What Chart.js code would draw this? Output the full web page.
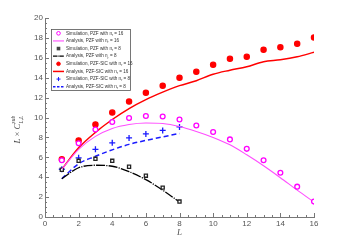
<!DOCTYPE html>
<html>
<head>
<meta charset="utf-8">
<script src="https://cdn.jsdelivr.net/npm/chart.js@4"></script>
<style>
  html, body { margin: 0; padding: 0; background: #fff; }
  #wrap { width: 347px; height: 245px; }
</style>
</head>
<body>
<div id="wrap"><canvas id="grafica" width="347" height="245"></canvas></div>
<script>
// valores
const L16 = [1, 2, 3, 4, 5, 6, 7, 8, 9, 10, 11, 12, 13, 14, 15, 16];
const L8 = [1, 2, 3, 4, 5, 6, 7, 8];

const simPzf16 = [5.7, 7.4, 8.8, 9.55, 9.95, 10.15, 10.1, 9.8, 9.2, 8.55, 7.8, 6.85, 5.7, 4.45, 3.05, 1.55];
const anaPzf16 = [4.8, 6.8, 8.1, 8.9, 9.3, 9.45, 9.4, 9.1, 8.6, 8.0, 7.25, 6.25, 5.15, 3.95, 2.7, 1.5];
const simPzf8 = [4.75, 5.65, 5.85, 5.65, 5.05, 4.15, 2.95, 1.55];
const anaPzf8 = [3.85, 4.95, 5.2, 5.1, 4.55, 3.75, 2.7, 1.5];
const simSic16 = [5.8, 7.7, 9.3, 10.5, 11.6, 12.5, 13.2, 14.0, 14.6, 15.3, 15.9, 16.1, 16.8, 17.05, 17.4, 18.05];
const anaSic16 = [4.8, 6.95, 8.5, 9.8, 10.9, 11.8, 12.55, 13.2, 13.7, 14.35, 14.75, 15.1, 15.6, 15.8, 16.1, 16.55];
const simSic8 = [4.8, 5.95, 6.8, 7.45, 7.95, 8.35, 8.7, 9.05];
const anaSic8 = [3.85, 5.35, 6.1, 6.75, 7.3, 7.7, 8.05, 8.4];

const xTicks = [0, 2, 4, 6, 8, 10, 12, 14, 16];
const yTicks = [0, 2, 4, 6, 8, 10, 12, 14, 16, 18, 20];

const etiquetas = [
  'Simulation, PZF with n|r| = 16',
  'Analysis, PZF with n|r| = 16',
  'Simulation, PZF with n|r| = 8',
  'Analysis, PZF with n|r| = 8',
  'Simulation, PZF-SIC with n|r| = 16',
  'Analysis, PZF-SIC with n|r| = 16',
  'Simulation, PZF-SIC with n|r| = 8',
  'Analysis, PZF-SIC with n|r| = 8'
];

const pares = (xs, ys) => xs.map((x, i) => ({ x: x, y: ys[i] }));

const puntos = (label, xs, ys, color, estilo, relleno, radio) => ({
  label: label,
  data: pares(xs, ys),
  showLine: false,
  pointStyle: estilo,
  pointRadius: radio,
  pointBorderWidth: 1.3,
  pointBorderColor: color,
  pointBackgroundColor: relleno,
  borderColor: color,
  backgroundColor: relleno
});

const linea = (label, xs, ys, color, ancho, guion) => ({
  label: label,
  data: pares(xs, ys),
  showLine: true,
  pointRadius: 0,
  borderColor: color,
  borderWidth: ancho,
  borderDash: guion,
  tension: 0.35,
  cubicInterpolationMode: 'monotone'
});

const datasets = [
  puntos(etiquetas[0], L16, simPzf16, '#ff00ff', 'circle', '#ffffff', 2.4),
  linea(etiquetas[1], L16, anaPzf16, '#ff4dff', 1.1, []),
  puntos(etiquetas[2], L8, simPzf8, '#222222', 'rect', '#ffffff', 2.2),
  linea(etiquetas[3], L8, anaPzf8, '#000000', 1.3, [9, 1.2, 1.2, 1.2]),
  puntos(etiquetas[4], L16, simSic16, '#ff0000', 'circle', '#ff0000', 2.6),
  linea(etiquetas[5], L16, anaSic16, '#ff0000', 1.5, []),
  puntos(etiquetas[6], L8, simSic8, '#1a1aff', 'cross', '#1a1aff', 3),
  linea(etiquetas[7], L8, anaSic8, '#1a1aff', 1.5, [5, 3])
];

// ticks hacia adentro (mayores y menores) usando las escalas
const ticksAdentro = {
  id: 'ticksAdentro',
  afterDraw(chart) {
    const c = chart.ctx;
    const xs = chart.scales.x, ys = chart.scales.y;
    const a = chart.chartArea;
    c.save();
    c.strokeStyle = '#777';
    c.lineWidth = 1;
    c.beginPath();
    for (let v = 0; v <= 16.001; v += 0.5) {
      const px = Math.round(xs.getPixelForValue(v)) + 0.5;
      const len = (v % 2 === 0) ? 4 : 2;
      c.moveTo(px, a.bottom);
      c.lineTo(px, a.bottom - len);
    }
    for (let v = 0; v <= 20.001; v += 0.5) {
      const py = Math.round(ys.getPixelForValue(v)) + 0.5;
      const len = (v % 2 === 0) ? 4 : 2;
      c.moveTo(a.left, py);
      c.lineTo(a.left + len, py);
    }
    c.stroke();
    c.restore();
  }
};

// leyenda dibujada a mano con el estilo de cada serie
const leyenda = {
  id: 'leyenda',
  afterDraw(chart) {
    const c = chart.ctx;
    const x0 = 51, y0 = 29, w = 79, h = 61;
    const fila = h / 8;
    c.save();
    c.fillStyle = '#fff';
    c.fillRect(x0, y0, w, h);
    c.strokeStyle = '#555';
    c.lineWidth = 0.8;
    c.strokeRect(x0 + 0.5, y0 + 0.5, w, h);
    chart.data.datasets.forEach((ds, i) => {
      const cy = y0 + fila * i + fila / 2 + 0.5;
      if (ds.showLine) {
        c.strokeStyle = ds.borderColor;
        c.lineWidth = ds.borderWidth;
        c.setLineDash(ds.borderDash.map(d => d * 0.5));
        c.beginPath();
        c.moveTo(x0 + 2, cy);
        c.lineTo(x0 + 13, cy);
        c.stroke();
        c.setLineDash([]);
      } else {
        c.fillStyle = ds.pointBackgroundColor;
        c.strokeStyle = ds.pointBorderColor;
        c.lineWidth = 1;
        const mx = x0 + 7.5;
        if (ds.pointStyle === 'circle') {
          c.beginPath();
          c.arc(mx, cy, 1.8, 0, Math.PI * 2);
          c.fill();
          c.stroke();
        } else if (ds.pointStyle === 'rect') {
          c.fillStyle = '#444';
          c.fillRect(mx - 1.8, cy - 1.8, 3.6, 3.6);
        } else {
          c.beginPath();
          c.moveTo(mx - 2, cy); c.lineTo(mx + 2, cy);
          c.moveTo(mx, cy - 2); c.lineTo(mx, cy + 2);
          c.stroke();
        }
      }
      const partes = ds.label.split('|');
      c.fillStyle = '#333';
      c.textBaseline = 'middle';
      c.font = '4.6px "Liberation Sans", Arial, sans-serif';
      let tx = x0 + 15;
      c.fillText(partes[0], tx, cy);
      tx += c.measureText(partes[0]).width;
      c.font = '3.4px "Liberation Sans", Arial, sans-serif';
      c.fillText(partes[1], tx, cy + 1.4);
      tx += c.measureText(partes[1]).width;
      c.font = '4.6px "Liberation Sans", Arial, sans-serif';
      c.fillText(partes[2], tx, cy);
    });
    c.restore();
  }
};

// titulo del eje y con sub/superindices
const tituloY = {
  id: 'tituloY',
  afterDraw(chart) {
    const c = chart.ctx;
    const a = chart.chartArea;
    c.save();
    c.translate(18, (a.top + a.bottom) / 2 + 4);
    c.rotate(-Math.PI / 2);
    c.fillStyle = '#444';
    c.textBaseline = 'middle';
    c.textAlign = 'left';
    let tx = -22;
    c.font = 'italic 9px "Liberation Serif", "DejaVu Serif", serif';
    c.fillText('L', tx, 0); tx += c.measureText('L').width + 2;
    c.font = '9px "Liberation Serif", serif';
    c.fillText('\u00d7', tx, 0); tx += c.measureText('\u00d7').width + 2;
    c.font = 'italic 9px "Liberation Serif", serif';
    c.fillText('C', tx, 0); tx += c.measureText('C').width;
    c.font = 'italic 5.5px "Liberation Serif", serif';
    c.fillText('sub', tx, -4);
    c.fillText('L,L', tx, 3.5);
    c.restore();
  }
};

const config = {
  type: 'scatter',
  data: { datasets: datasets },
  options: {
    responsive: false,
    animation: false,
    layout: { padding: { left: 8, right: 33, top: 18, bottom: 7 } },
    plugins: { legend: { display: false }, tooltip: { enabled: false } },
    scales: {
      x: {
        type: 'linear',
        min: 0, max: 16,
        afterBuildTicks: s => { s.ticks = xTicks.map(v => ({ value: v })); },
        afterFit: s => { s.height = 21; },
        grid: { display: false, drawTicks: false },
        border: { display: true, color: '#777', width: 1 },
        ticks: { color: '#555', font: { size: 8, family: '"Liberation Sans", Arial, sans-serif' }, padding: 2 },
        title: { display: true, text: 'L', color: '#555', padding: 0,
                 font: { size: 9, style: 'italic', family: '"Liberation Serif", serif' } }
      },
      y: {
        type: 'linear',
        min: 0, max: 20,
        afterBuildTicks: s => { s.ticks = yTicks.map(v => ({ value: v })); },
        afterFit: s => { s.width = 37; },
        grid: { display: false, drawTicks: false },
        border: { display: true, color: '#777', width: 1 },
        ticks: { color: '#555', font: { size: 8, family: '"Liberation Sans", Arial, sans-serif' }, padding: 2 }
      }
    }
  },
  plugins: [ticksAdentro, leyenda, tituloY]
};

new Chart(document.getElementById('grafica').getContext('2d'), config);
</script>
</body>
</html>
